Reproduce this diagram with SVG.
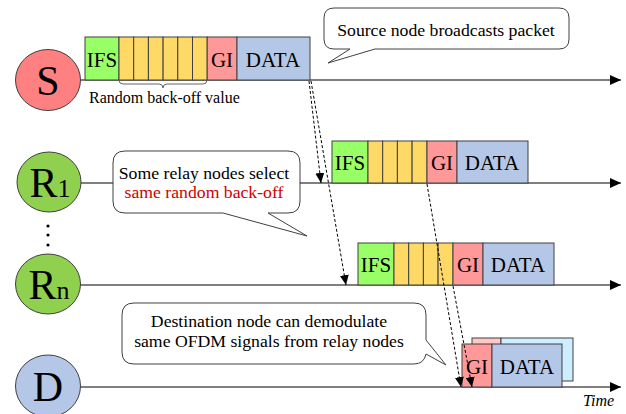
<svg xmlns="http://www.w3.org/2000/svg" width="626" height="414" viewBox="0 0 626 414" font-family="'Liberation Serif', 'DejaVu Serif', serif">
<defs>
<marker id="ah" markerUnits="userSpaceOnUse" markerWidth="12" markerHeight="10" refX="11" refY="5" orient="auto">
<path d="M0,0 L11,5 L0,10 Z" fill="#000"/>
</marker>
<marker id="dh" markerUnits="userSpaceOnUse" markerWidth="10" markerHeight="9" refX="10" refY="4.5" orient="auto">
<path d="M0,0 L10,4.5 L0,9 Z" fill="#000"/>
</marker>
</defs>
<style>
text{fill:#000}
.cell{stroke:#404040;stroke-width:1}
.tl{stroke:#000;stroke-width:1.2;fill:none}
.ifs{fill:#99ff66}
.bo{fill:#ffd966}
.gi{fill:#ff9999}
.data{fill:#b4c7e7}
.pk{font-size:21px;text-anchor:middle}
.node{stroke:#404040;stroke-width:1}
.call{fill:#fff;stroke:#404040;stroke-width:1}
.ct{font-size:17.7px;text-anchor:middle}
.dash{stroke:#000;stroke-width:1;stroke-dasharray:3,2;fill:none}
.big{font-size:42px}
</style>
<rect width="626" height="414" fill="#fff"/>

<g id="timelines">
<line class="tl" x1="80" y1="80" x2="621" y2="80" marker-end="url(#ah)"/>
<line class="tl" x1="81" y1="183" x2="621" y2="183" marker-end="url(#ah)"/>
<line class="tl" x1="80" y1="285" x2="621" y2="285" marker-end="url(#ah)"/>
<line class="tl" x1="80" y1="387" x2="621" y2="387" marker-end="url(#ah)"/>
</g>

<g id="node-S">
<ellipse class="node" cx="48" cy="80" rx="32.5" ry="30.5" fill="#ff8080"/>
<text x="48" y="95" class="big" text-anchor="middle">S</text>
</g>
<g id="node-R1">
<ellipse class="node" cx="49" cy="182" rx="32" ry="30" fill="#8fd14f"/>
<text x="50" y="197" text-anchor="middle"><tspan font-size="42">R</tspan><tspan font-size="26">1</tspan></text>
</g>
<g id="dots">
<circle cx="48" cy="226" r="1.6" fill="#000"/>
<circle cx="48" cy="235" r="1.6" fill="#000"/>
<circle cx="48" cy="245" r="1.6" fill="#000"/>
</g>
<g id="node-Rn">
<ellipse class="node" cx="48" cy="284" rx="32.5" ry="30" fill="#8fd14f"/>
<text x="49" y="299" text-anchor="middle"><tspan font-size="42">R</tspan><tspan font-size="26">n</tspan></text>
</g>
<g id="node-D">
<ellipse class="node" cx="48" cy="386" rx="32.5" ry="31" fill="#b4c7e7"/>
<text x="48" y="401" class="big" text-anchor="middle">D</text>
</g>

<g id="packet-S">
<rect class="cell ifs" x="85" y="37" width="34" height="43"/>
<rect class="cell bo" x="119" y="37" width="14.7" height="43"/>
<rect class="cell bo" x="133.7" y="37" width="14.7" height="43"/>
<rect class="cell bo" x="148.4" y="37" width="14.7" height="43"/>
<rect class="cell bo" x="163.1" y="37" width="14.7" height="43"/>
<rect class="cell bo" x="177.8" y="37" width="14.7" height="43"/>
<rect class="cell bo" x="192.5" y="37" width="14.7" height="43"/>
<rect class="cell gi" x="207.2" y="37" width="29.8" height="43"/>
<rect class="cell data" x="237" y="37" width="73" height="43"/>
<text class="pk" x="102" y="67">IFS</text>
<text class="pk" x="222" y="67">GI</text>
<text class="pk" x="273" y="67">DATA</text>
<path d="M119,80 Q119,84 123,84 H159 Q163,84 163,88 Q163,84 167,84 H203 Q207,84 207,80" fill="none" stroke="#666" stroke-width="1"/>
<text x="89" y="103" font-size="16">Random back-off value</text>
</g>

<g id="packet-R1">
<rect class="cell ifs" x="332" y="141" width="36" height="42"/>
<rect class="cell bo" x="368" y="141" width="14.7" height="42"/>
<rect class="cell bo" x="382.7" y="141" width="14.7" height="42"/>
<rect class="cell bo" x="397.4" y="141" width="14.7" height="42"/>
<rect class="cell bo" x="412.1" y="141" width="14.9" height="42"/>
<rect class="cell gi" x="427" y="141" width="30" height="42"/>
<rect class="cell data" x="457" y="141" width="71" height="42"/>
<text class="pk" x="350" y="170">IFS</text>
<text class="pk" x="442" y="170">GI</text>
<text class="pk" x="492" y="170">DATA</text>
</g>

<g id="packet-Rn">
<rect class="cell ifs" x="358" y="243" width="36" height="42"/>
<rect class="cell bo" x="394" y="243" width="14.7" height="42"/>
<rect class="cell bo" x="408.7" y="243" width="14.7" height="42"/>
<rect class="cell bo" x="423.4" y="243" width="14.7" height="42"/>
<rect class="cell bo" x="438.1" y="243" width="14.9" height="42"/>
<rect class="cell gi" x="453" y="243" width="30" height="42"/>
<rect class="cell data" x="483" y="243" width="71" height="42"/>
<text class="pk" x="376" y="272">IFS</text>
<text class="pk" x="468" y="272">GI</text>
<text class="pk" x="518" y="272">DATA</text>
</g>

<g id="packet-D">
<rect class="cell" x="472" y="338" width="29" height="43" fill="#ffc8c8"/>
<rect class="cell" x="501" y="338" width="72" height="43" fill="#cceeff"/>
<rect class="cell gi" x="462" y="344" width="30" height="43"/>
<rect class="cell data" x="492" y="344" width="70" height="43"/>
<text class="pk" x="477" y="374">GI</text>
<text class="pk" x="527" y="374">DATA</text>
</g>

<g id="connectors">
<line class="dash" x1="309" y1="81" x2="321" y2="183" marker-end="url(#dh)"/>
<line class="dash" x1="311" y1="81" x2="346" y2="285" marker-end="url(#dh)"/>
<line class="dash" x1="427" y1="184" x2="461" y2="387" marker-end="url(#dh)"/>
<line class="dash" x1="453" y1="286" x2="472" y2="387" marker-end="url(#dh)"/>
</g>

<g id="callout-source">
<path class="call" d="M334,8 H559 Q569,8 569,18 V39 Q569,49 559,49 H375 L328,63 L350,49 H334 Q324,49 324,39 V18 Q324,8 334,8 Z"/>
<text class="ct" x="446" y="36">Source node broadcasts packet</text>
</g>

<g id="callout-relay">
<path class="call" d="M125,151 H288 Q300,151 300,163 V201 Q300,213 288,213 H268 L307,236 L223,213 H125 Q113,213 113,201 V163 Q113,151 125,151 Z"/>
<text class="ct" x="204" y="179">Some relay nodes select</text>
<text class="ct" x="204" y="198" style="fill:#d00000">same random back-off</text>
</g>

<g id="callout-dest">
<path class="call" d="M134,303 H414 Q426,303 426,315 V340 L446,365 L426,354 Q424,364 414,364 H134 Q122,364 122,352 V315 Q122,303 134,303 Z"/>
<text class="ct" x="269" y="327">Destination node can demodulate</text>
<text class="ct" x="269" y="347">same OFDM signals from relay nodes</text>
</g>

<text x="583" y="406" font-size="16" font-style="italic">Time</text>
</svg>
